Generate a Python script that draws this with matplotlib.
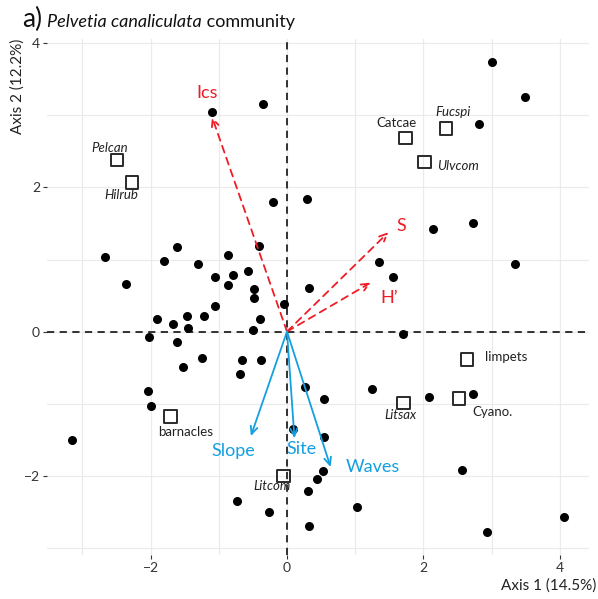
import matplotlib
matplotlib.use('Agg')
import matplotlib.pyplot as plt

plt.rcParams['font.family'] = ['Lato', 'DejaVu Sans']

# site scores (black dots)
site_x = [-0.35, -1.10, -0.21, 0.29, -0.41, -1.61, -2.67, -1.80, -0.87, -1.30,
          -0.57, -0.79, -1.05, -2.36, -0.86, -0.48, -0.49, -0.04, -1.05, -1.90,
          -1.46, -1.21, -1.67, -1.45, -0.40, -0.50, -2.02, -1.62, -1.25, -1.52,
          -0.66, -0.38, -0.69, -2.04, -2.00, -3.16, 0.09, -0.74, -0.26, 3.01,
          3.49, 2.81, 2.14, 2.73, 1.35, 1.56, 3.34, 0.32, 1.70, 0.27,
          0.55, 1.25, 2.09, 2.73, 0.54, 0.53, 0.44, 0.31, 1.02, 0.32,
          2.56, 4.06, 2.93]
site_y = [3.16, 3.05, 1.80, 1.84, 1.19, 1.18, 1.03, 0.98, 1.06, 0.94,
          0.84, 0.79, 0.76, 0.66, 0.65, 0.59, 0.46, 0.38, 0.36, 0.18,
          0.22, 0.21, 0.11, 0.05, 0.18, 0.02, -0.08, -0.15, -0.36, -0.49,
          -0.40, -0.40, -0.59, -0.82, -1.03, -1.51, -1.35, -2.35, -2.50, 3.74,
          3.26, 2.88, 1.42, 1.50, 0.96, 0.76, 0.94, 0.60, -0.03, -0.77,
          -0.93, -0.79, -0.91, -0.86, -1.46, -1.93, -2.05, -2.21, -2.43, -2.70,
          -1.92, -2.57, -2.78]

# species scores (open squares)
sp_names = ['Pelcan', 'Hilrub', 'Catcae', 'Fucspi', 'Ulvcom', 'barnacles',
            'Litcom', 'limpets', 'Litsax', 'Cyano.']
sp_x = [-2.49, -2.27, 1.74, 2.33, 2.02, -1.71, -0.05, 2.64, 1.71, 2.52]
sp_y = [2.38, 2.07, 2.69, 2.82, 2.35, -1.18, -2.00, -0.39, -0.99, -0.93]
sp_italic = [True, True, False, True, True, False, True, False, True, False]
sp_lab_x = [-2.60, -2.43, 1.61, 2.43, 2.51, -1.49, -0.22, 3.22, 1.66, 3.01]
sp_lab_y = [2.55, 1.90, 2.89, 3.05, 2.30, -1.40, -2.14, -0.35, -1.16, -1.11]

# fitted vectors
vec_names = ['Ics', 'S', "H\u2019", 'Slope', 'Site', 'Waves']
vec_x = [-1.10, 1.49, 1.23, -0.53, 0.11, 0.64]
vec_y = [2.98, 1.38, 0.68, -1.45, -1.48, -1.88]
vec_lab_x = [-1.17, 1.68, 1.50, -0.79, 0.22, 1.26]
vec_lab_y = [3.31, 1.47, 0.47, -1.65, -1.63, -1.88]
vec_group = ['div', 'div', 'div', 'env', 'env', 'env']

red = '#EE1C25'
blue = '#14A0E0'

fig = plt.figure(figsize=(5.98, 5.99), dpi=100)
ax = fig.add_axes([47/598, 1 - 555/599, (589 - 47)/598, (555 - 39)/599])
ax.set_xlim(-3.52, 4.43)
ax.set_ylim(-3.10, 4.06)

for s in ax.spines.values():
    s.set_visible(False)
ax.set_xticks([-2, 0, 2, 4])
ax.set_yticks([-2, 0, 2, 4])
ax.set_xticklabels(['\u22122', '0', '2', '4'])
ax.set_yticklabels(['\u22122', '0', '2', '4'])
ax.set_xticks([-3, -1, 1, 3], minor=True)
ax.set_yticks([-3, -1, 1, 3], minor=True)
ax.tick_params(which='major', length=3, width=0.8, color='#333333',
               labelsize=10, labelcolor='#333333', pad=2)
ax.tick_params(which='minor', length=0)
ax.grid(True, which='both', color='#EBEBEB', lw=0.9)
ax.set_axisbelow(True)

ax.axhline(0, color='#222222', ls=(0, (4, 3)), lw=1.3, zorder=1)
ax.axvline(0, color='#222222', ls=(0, (4, 3)), lw=1.3, zorder=1)

ax.scatter(site_x, site_y, s=30, color='black', zorder=3)
ax.scatter(sp_x, sp_y, s=80, marker='s', facecolors='none',
           edgecolors='#2a2a2a', linewidths=1.4, zorder=3)

for name, lx, ly, it in zip(sp_names, sp_lab_x, sp_lab_y, sp_italic):
    ax.text(lx, ly, name, ha='center', va='center', fontsize=9.5,
            color='#222222', style='italic' if it else 'normal', zorder=4)

for name, x, y, lx, ly, g in zip(vec_names, vec_x, vec_y, vec_lab_x, vec_lab_y, vec_group):
    c = red if g == 'div' else blue
    ls = (0, (4, 3)) if g == 'div' else '-'
    ax.annotate('', xy=(x, y), xytext=(0, 0),
                arrowprops=dict(arrowstyle='->,head_length=0.55,head_width=0.25',
                                color=c, lw=1.3, linestyle=ls,
                                shrinkA=0, shrinkB=0), zorder=5)
    ax.text(lx, ly, name, ha='center', va='center', fontsize=13, color=c, zorder=5)

fig.text(596/598, 1 - 586/599, 'Axis 1 (14.5%)', ha='right', va='center',
         fontsize=11, color='#222222')
fig.text(18/598, 1 - 39/599, 'Axis 2 (12.2%)', ha='center', va='top',
         rotation=90, fontsize=11, color='#222222')

# title assembled from pieces
renderer = fig.canvas.get_renderer()
base_y = 1 - 27/599
t1 = fig.text(22/598, base_y, 'a)', fontsize=19, color='#111111', va='baseline')
x_px = t1.get_window_extent(renderer).x1 + 5
t2 = fig.text(x_px/598, base_y, 'Pelvetia canaliculata', fontsize=13,
              style='italic', color='#111111', va='baseline')
x_px = t2.get_window_extent(renderer).x1
fig.text(x_px/598, base_y, ' community', fontsize=13, color='#111111', va='baseline')

fig.savefig('out.png', dpi=100)
